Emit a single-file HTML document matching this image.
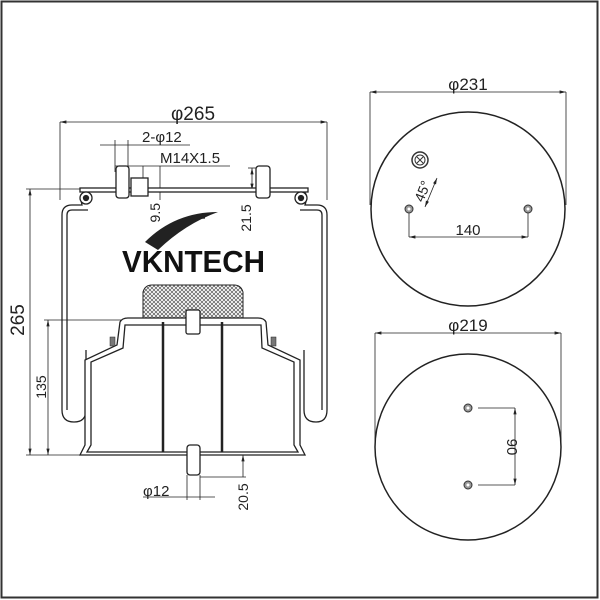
<!DOCTYPE html>
<html><head><meta charset="utf-8"><style>
html,body{margin:0;padding:0;background:#fff}
svg{display:block}
text{font-family:"Liberation Sans",sans-serif;fill:#222}
</style></head><body>
<svg width="600" height="600" viewBox="0 0 600 600" xmlns="http://www.w3.org/2000/svg">
<defs>
<marker id="a" markerWidth="8" markerHeight="6" refX="8" refY="3" orient="auto-start-reverse"><path d="M0,1 L8,3 L0,5z" fill="#222"/></marker>
<pattern id="h" width="4" height="4" patternUnits="userSpaceOnUse"><path d="M0,0 L4,4 M4,0 L0,4" stroke="#555" stroke-width="0.7"/></pattern>
</defs>
<rect x="1.5" y="1.5" width="596" height="596" fill="none" stroke="#333" stroke-width="2"/>

<g stroke="#222" fill="none" stroke-width="0.8">
<line x1="60" y1="122" x2="327" y2="122" marker-start="url(#a)" marker-end="url(#a)"/>
<line x1="60" y1="122" x2="60" y2="200"/><line x1="327" y1="122" x2="327" y2="200"/>
<line x1="100" y1="145" x2="190" y2="145"/>
<line x1="115" y1="140" x2="115" y2="172"/><line x1="128" y1="140" x2="128" y2="172"/>
<line x1="115" y1="166" x2="230" y2="166"/>
<line x1="143" y1="166" x2="143" y2="180"/>
<line x1="160" y1="166" x2="160" y2="200"/>
<line x1="252" y1="168" x2="252" y2="190" marker-start="url(#a)" marker-end="url(#a)"/>
<line x1="248" y1="168" x2="262" y2="168"/>
<line x1="30" y1="189" x2="30" y2="455" marker-start="url(#a)" marker-end="url(#a)"/>
<line x1="26" y1="189" x2="80" y2="189"/><line x1="26" y1="455" x2="80" y2="455"/>
<line x1="48" y1="320" x2="48" y2="455" marker-start="url(#a)" marker-end="url(#a)"/>
<line x1="44" y1="320" x2="125" y2="320"/>
<line x1="143" y1="497" x2="215" y2="497"/>
<line x1="187" y1="475" x2="187" y2="500"/><line x1="200" y1="475" x2="200" y2="500"/>
<line x1="243" y1="455" x2="243" y2="477" marker-start="url(#a)"/>
<line x1="200" y1="477" x2="246" y2="477"/>
</g>

<g stroke="#222" fill="#fff" stroke-width="1.3">
<path d="M62,410 L62,215 Q62,205 72,205 L82,205 Q78,190 90,190 L298,190 Q310,190 305,205 L317,205 Q327,205 327,215 L327,410 Q327,422 316,422 Q304,422 304,410 L304,350" fill="none"/>
<path d="M62,410 Q62,422 74,422 Q86,422 86,410 L86,350" fill="none"/>
<path d="M67,410 L67,215 Q67,210 72,210 L88,210" fill="none"/>
<path d="M322,410 L322,215 Q322,210 317,210 L300,210" fill="none"/>
<rect x="80" y="188" width="228" height="4" fill="#fff"/>
<circle cx="86" cy="198" r="6"/><circle cx="86" cy="198" r="2.5" fill="#222"/>
<circle cx="301" cy="198" r="6"/><circle cx="301" cy="198" r="2.5" fill="#222"/>
<rect x="116" y="166" width="13" height="32" rx="3"/>
<rect x="131" y="178" width="17" height="18"/>
<rect x="256" y="166" width="14" height="32" rx="3"/>
</g>

<path d="M145,242 Q175,212 218,212 Q185,224 158,250 Z" fill="#222"/>
<path d="M160,232 Q185,218 205,218" stroke="#222" fill="none" stroke-width="1.2"/>
<text x="122" y="272" font-size="31" font-weight="bold" textLength="143" lengthAdjust="spacingAndGlyphs" style="fill:#111">VKNTECH</text>

<path d="M143,320 L143,292 Q145,285 152,285 L234,285 Q241,285 243,292 L243,320 Z" fill="url(#h)" stroke="#222" stroke-width="1"/>

<g stroke="#222" fill="#fff" stroke-width="1.3">
<path d="M120,322 Q122,318 128,318 L258,318 Q264,318 266,322 L268,345 L300,360 L300,445 L305,455 L80,455 L85,445 L85,360 L117,345 Z"/>
<path d="M125,325 L261,325 L262,348 L294,362 L294,445 L298,452 L87,452 L91,445 L91,362 L123,348 Z" fill="none"/>
<line x1="163" y1="322" x2="163" y2="452" stroke-width="2.5"/>
<line x1="222" y1="322" x2="222" y2="452" stroke-width="2.5"/>
<rect x="186" y="310" width="14" height="24" rx="2"/>
<rect x="187" y="445" width="13" height="30" rx="3"/>
<rect x="110" y="337" width="5" height="9" fill="#777" stroke-width="0.5"/>
<rect x="271" y="337" width="5" height="9" fill="#777" stroke-width="0.5"/>
</g>

<text x="193" y="120" font-size="19" text-anchor="middle">φ265</text>
<text x="142" y="142" font-size="15">2-φ12</text>
<text x="160" y="163" font-size="15">M14X1.5</text>
<text x="160" y="203" font-size="14" transform="rotate(-90 160 203)" text-anchor="end">9.5</text>
<text x="251" y="218" font-size="14" transform="rotate(-90 251 218)" text-anchor="middle">21.5</text>
<text x="24" y="320" font-size="19" transform="rotate(-90 24 320)" text-anchor="middle">265</text>
<text x="46" y="387" font-size="14" transform="rotate(-90 46 387)" text-anchor="middle">135</text>
<text x="143" y="496" font-size="15">φ12</text>
<text x="248" y="497" font-size="14" transform="rotate(-90 248 497)" text-anchor="middle">20.5</text>

<g stroke="#222" fill="none" stroke-width="0.8">
<line x1="370" y1="92" x2="566" y2="92" marker-start="url(#a)" marker-end="url(#a)"/>
<line x1="370" y1="92" x2="370" y2="205"/><line x1="566" y1="92" x2="566" y2="205"/>
<line x1="409" y1="212" x2="409" y2="237"/><line x1="528" y1="212" x2="528" y2="237"/>
<line x1="409" y1="237" x2="528" y2="237" marker-start="url(#a)" marker-end="url(#a)"/>
<path d="M437,178 L425,207" marker-start="url(#a)" marker-end="url(#a)"/>
<line x1="478" y1="408" x2="515" y2="408"/><line x1="478" y1="485" x2="515" y2="485"/>
<line x1="515" y1="408" x2="515" y2="485" marker-start="url(#a)" marker-end="url(#a)"/>
<line x1="375" y1="333" x2="561" y2="333" marker-start="url(#a)" marker-end="url(#a)"/>
<line x1="375" y1="333" x2="375" y2="445"/><line x1="561" y1="333" x2="561" y2="445"/>
</g>
<circle cx="468" cy="209" r="97" fill="none" stroke="#222" stroke-width="1.5"/>
<circle cx="468" cy="447" r="93" fill="none" stroke="#222" stroke-width="1.5"/>
<g stroke="#333" fill="#fff">
<circle cx="420" cy="160" r="8" stroke-width="1.5"/><circle cx="420" cy="160" r="5"/>
<path d="M417,157 L423,163 M423,157 L417,163" stroke-width="1"/>
<circle cx="409" cy="209" r="4" fill="#999" stroke-width="1"/><circle cx="409" cy="209" r="1.5" fill="#fff" stroke="none"/>
<circle cx="528" cy="209" r="4" fill="#999" stroke-width="1"/><circle cx="528" cy="209" r="1.5" fill="#fff" stroke="none"/>
<circle cx="468" cy="408" r="4" fill="#999" stroke-width="1"/><circle cx="468" cy="408" r="1.5" fill="#fff" stroke="none"/>
<circle cx="468" cy="485" r="4" fill="#999" stroke-width="1"/><circle cx="468" cy="485" r="1.5" fill="#fff" stroke="none"/>
</g>
<text x="468" y="90" font-size="17" text-anchor="middle">φ231</text>
<text x="468" y="235" font-size="15" text-anchor="middle">140</text>
<text x="427" y="193" font-size="14" transform="rotate(-68 427 193)" text-anchor="middle">45°</text>
<text x="468" y="331" font-size="17" text-anchor="middle">φ219</text>
<text x="507" y="447" font-size="15" transform="rotate(90 507 447)" text-anchor="middle">90</text>
</svg>
</body></html>
